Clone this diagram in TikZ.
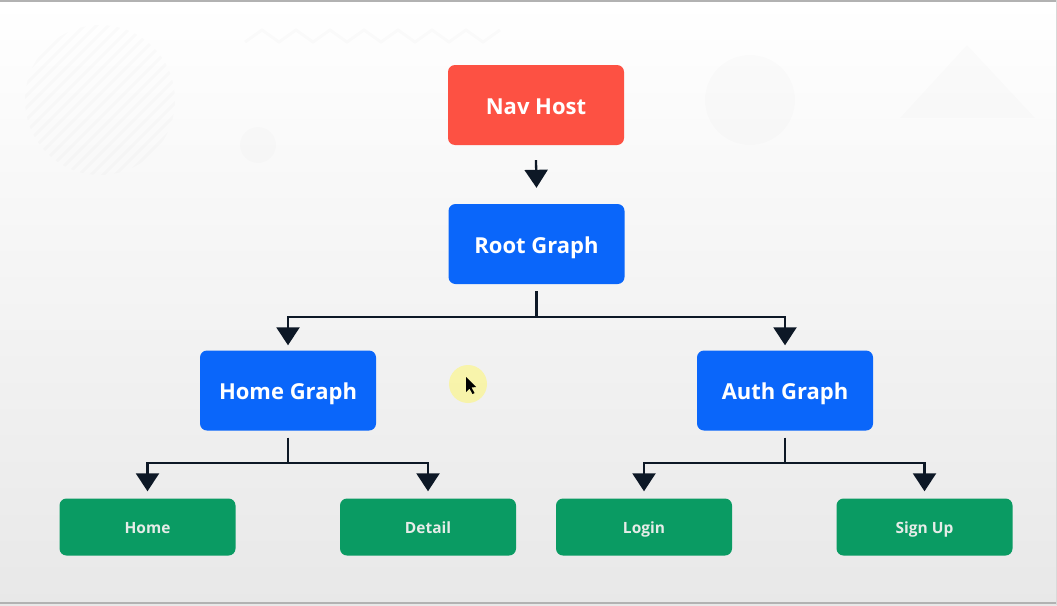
\documentclass[tikz,border=0pt]{standalone}
\usepackage{fontspec}
\setmainfont{Open Sans}
\usetikzlibrary{arrows.meta,calc}
\definecolor{navred}{HTML}{FD5143}
\definecolor{graphblue}{HTML}{0A66FA}
\definecolor{destgreen}{HTML}{0A9B63}
\definecolor{linedark}{HTML}{0D1826}
\definecolor{lbltext}{HTML}{E6ECE8}
\tikzset{
  box/.style={rounded corners=7pt, minimum width=176pt, minimum height=80pt, text=white, font=\fontsize{22}{24}\selectfont\bfseries, inner sep=0pt, text height=18pt, text depth=0pt},
  redbox/.style={box, fill=navred},
  bluebox/.style={box, fill=graphblue},
  greenbox/.style={rounded corners=7pt, minimum width=176pt, minimum height=57pt, fill=destgreen, text=lbltext, font=\fontsize{15.5}{18}\selectfont\bfseries, inner sep=0pt, text height=12pt, text depth=0pt},
  conn/.style={draw=linedark, line width=2.3pt},
  arr/.style={conn, -{Triangle[width=23pt,length=18pt]}},
  deco/.style={fill=black, fill opacity=0.01, draw=none}
}
\begin{document}
\begin{tikzpicture}[x=1pt,y=-1pt]
\useasboundingbox (0,0) rectangle (1057,605);
\shade[top color=white, bottom color=black!9] (0,0) rectangle (1057,605);
% faint background decorations
\fill[deco] (750,100) circle (45);
\fill[deco] (258,145) circle (18);
\fill[deco] (900,118) -- (967,45) -- (1035,118) -- cycle;
\begin{scope}
  \clip (100,100) circle (75);
  \foreach \k in {-150,-138,...,150} {
    \draw[black, draw opacity=0.015, line width=3pt] (100+\k-80,180) -- (100+\k+80,20);
  }
\end{scope}
\draw[black, draw opacity=0.015, line width=3pt] (245,42) -- (262,30) -- (279,42) -- (296,30) -- (313,42) -- (330,30) -- (347,42) -- (364,30) -- (381,42) -- (398,30) -- (415,42) -- (432,30) -- (449,42) -- (466,30) -- (483,42) -- (500,30);
% frame
\draw[black!30, line width=2pt] (0,1) -- (1057,1);
\draw[black!30, line width=2pt] (0,603) -- (1057,603);
\draw[black!15, line width=1pt] (1056,0) -- (1056,605);
% nodes
\node[redbox]   (nav)    at (536,105) {Nav Host};
\node[bluebox]  (root)   at (536.5,244) {Root Graph};
\node[bluebox]  (homeg)  at (288,390.5) {Home Graph};
\node[bluebox]  (authg)  at (785,390.5) {Auth Graph};
\node[greenbox] (home)   at (147.5,527) {Home};
\node[greenbox] (detail) at (428,527) {Detail};
\node[greenbox] (login)  at (644,527) {Login};
\node[greenbox] (signup) at (924.5,527) {Sign Up};
% connectors
\draw[arr] ([yshift=-15pt]nav.south) -- ([yshift=16pt]root.north);
\coordinate (rj) at ($(root.south)+(0,33)$);
\draw[conn] ([yshift=-7pt]root.south) -- (rj);
\draw[arr] (rj) -| ([yshift=5pt]homeg.north);
\draw[arr] (rj) -| ([yshift=5pt]authg.north);
\coordinate (hj) at ($(homeg.south)+(0,32)$);
\draw[conn] ([yshift=-7pt]homeg.south) -- (hj);
\draw[arr] (hj) -| ([yshift=7pt]home.north);
\draw[arr] (hj) -| ([yshift=7pt]detail.north);
\coordinate (aj) at ($(authg.south)+(0,32)$);
\draw[conn] ([yshift=-7pt]authg.south) -- (aj);
\draw[arr] (aj) -| ([yshift=7pt]login.north);
\draw[arr] (aj) -| ([yshift=7pt]signup.north);
% cursor highlight
\fill[yellow!60!white, fill opacity=0.5] (468,384) circle (19);
\fill[black] (466,377) -- (466,392) -- (469.5,388.5) -- (472.5,394) -- (474.5,393) -- (471.5,387.5) -- (476,387) -- cycle;
\end{tikzpicture}
\end{document}
